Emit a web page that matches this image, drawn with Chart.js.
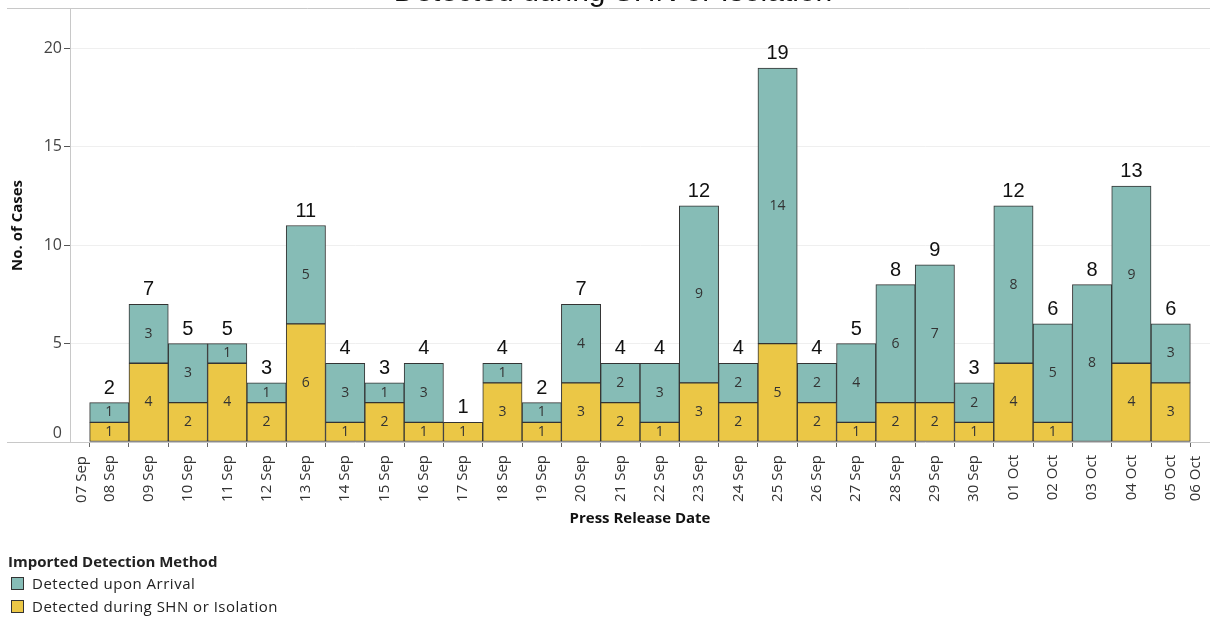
<!DOCTYPE html>
<html>
<head>
<meta charset="utf-8">
<script src="https://cdn.jsdelivr.net/npm/chart.js@4.4.1/dist/chart.umd.min.js"></script>
<style>
  html, body { margin: 0; padding: 0; background: #fff; }
  #wrap { position: relative; width: 1210px; height: 617px; overflow: hidden; }
  #legend { position: absolute; left: 8px; top: 551px; font-family: "Open Sans", sans-serif; font-size: 15px; color: #222; }
  #legend .ttl { font-weight: bold; height: 21px; line-height: 21px; }
  #legend .item { height: 23px; line-height: 23px; display: flex; align-items: center; letter-spacing: 0.5px; }
  #legend .sw { width: 11px; height: 11px; border: 1px solid #333; margin: 0 8px 0 3px; }
</style>
</head>
<body>
<div id="wrap">
  <canvas id="myChart" width="1210" height="617"></canvas>
  <div id="legend">
    <div class="ttl">Imported Detection Method</div>
    <div class="item"><span class="sw" style="background:#86BCB6"></span>Detected upon Arrival</div>
    <div class="item"><span class="sw" style="background:#EBC746"></span>Detected during SHN or Isolation</div>
  </div>
</div>
<script>
var tickLabels = ['07 Sep','08 Sep','09 Sep','10 Sep','11 Sep','12 Sep','13 Sep','14 Sep','15 Sep','16 Sep',
  '17 Sep','18 Sep','19 Sep','20 Sep','21 Sep','22 Sep','23 Sep','24 Sep','25 Sep','26 Sep','27 Sep',
  '28 Sep','29 Sep','30 Sep','01 Oct','02 Oct','03 Oct','04 Oct','05 Oct','06 Oct'];
// bars start at 08 Sep (index 1 of tickLabels)
var shn     = [1,4,2,4,2,6,1,2,1,1,3,1,3,2,1,3,2,5,2,1,2,2,1,4,1,0,4,3];
var arrival = [1,3,3,1,1,5,3,1,3,0,1,1,4,2,3,9,2,14,2,4,6,7,2,8,5,8,9,3];
var yTicks = [0,5,10,15,20];

var firstDay = 7;
function toPoints(arr) {
  return arr.map(function (v, i) { return { x: firstDay + 1 + i, y: v === 0 ? null : v }; });
}

function edgeLabel(c, text, x, y) {
  c.save();
  c.translate(x, y);
  c.rotate(-Math.PI / 2);
  c.textAlign = 'right';
  c.textBaseline = 'middle';
  c.fillText(text, 0, 0);
  c.restore();
}

var labelPlugin = {
  id: 'labels',
  afterDatasetsDraw: function (chart) {
    var c = chart.ctx;
    c.save();
    c.textAlign = 'center';
    c.textBaseline = 'middle';
    c.font = '14px "Open Sans"';
    c.fillStyle = '#333';
    chart.data.datasets.forEach(function (ds, di) {
      chart.getDatasetMeta(di).data.forEach(function (el, i) {
        var v = ds.data[i].y;
        if (!v) return;
        c.fillText(String(v), el.x, (el.y + el.base) / 2);
      });
    });
    // totals
    c.font = '20px "Liberation Sans"';
    c.fillStyle = '#111';
    c.textBaseline = 'alphabetic';
    var top = chart.getDatasetMeta(1).data;
    shn.forEach(function (v, i) {
      var t = v + arrival[i];
      var y = chart.scales.y.getPixelForValue(t);
      c.fillText(String(t), top[i].x, y - 9);
    });
    c.restore();
  },
  afterDraw: function (chart) {
    var c = chart.ctx;
    var a = chart.chartArea;
    c.save();
    c.strokeStyle = '#c8c8c8';
    c.lineWidth = 1;
    c.beginPath();
    c.moveTo(7, 8.5); c.lineTo(1210, 8.5);
    c.moveTo(7, a.bottom + 0.5); c.lineTo(a.left, a.bottom + 0.5);
    c.stroke();
    // clipped title at top
    c.font = '30px "Liberation Sans"';
    c.fillStyle = '#111';
    c.textAlign = 'center';
    c.textBaseline = 'alphabetic';
    c.fillText('Detected during SHN or Isolation', 613, 1);
    // first / last date labels pulled inside, bottom y label raised (as in reference)
    c.font = '15px "Open Sans"';
    c.fillStyle = '#333';
    edgeLabel(c, tickLabels[0], a.left + 12, a.bottom + 14);
    edgeLabel(c, tickLabels[tickLabels.length - 1], a.right - 14, a.bottom + 14);
    c.font = '16px "Open Sans"';
    c.fillStyle = '#444';
    c.textAlign = 'right';
    c.textBaseline = 'middle';
    c.fillText(String(yTicks[0]), 62, a.bottom - 9);
    c.restore();
  }
};

var ctx = document.getElementById('myChart');
var myChart = new Chart(ctx, {
  type: 'bar',
  data: {
    datasets: [{
      label: 'Detected during SHN or Isolation',
      data: toPoints(shn),
      backgroundColor: '#EBC746',
      borderColor: '#333',
      borderWidth: 1,
      borderSkipped: false,
      barPercentage: 1,
      categoryPercentage: 1
    }, {
      label: 'Detected upon Arrival',
      data: toPoints(arrival),
      backgroundColor: '#86BCB6',
      borderColor: '#333',
      borderWidth: 1,
      borderSkipped: false,
      barPercentage: 1,
      categoryPercentage: 1
    }]
  },
  options: {
    responsive: false,
    animation: false,
    layout: { padding: { top: 9, left: 0, right: 0, bottom: 0 } },
    plugins: { legend: { display: false }, tooltip: { enabled: false } },
    scales: {
      x: {
        type: 'linear',
        offset: false,
        stacked: true,
        min: firstDay,
        max: firstDay + tickLabels.length - 1,
        afterBuildTicks: function (axis) {
          axis.ticks = tickLabels.map(function (l, i) { return { value: firstDay + i }; });
        },
        afterFit: function (s) { s.paddingLeft = 0; s.paddingRight = 0; s.height = 175; },
        ticks: {
          autoSkip: false,
          minRotation: 90,
          maxRotation: 90,
          padding: 8,
          color: '#333',
          font: { family: 'Open Sans', size: 15 },
          callback: function (v) {
            var i = Math.round(v - firstDay);
            return (i === 0 || i === tickLabels.length - 1) ? '' : tickLabels[i];
          }
        },
        grid: { drawOnChartArea: false, drawTicks: true, tickLength: 5, tickColor: '#666' },
        border: { color: '#c8c8c8' },
        title: {
          display: true,
          text: 'Press Release Date',
          color: '#111',
          font: { family: 'Open Sans', size: 15, weight: 'bold' },
          padding: { top: 4, bottom: 89 }
        }
      },
      y: {
        stacked: true,
        min: 0,
        max: 22,
        afterBuildTicks: function (axis) {
          axis.ticks = yTicks.map(function (v) { return { value: v }; });
        },
        afterFit: function (s) { s.width = 70; s.paddingTop = 0; s.paddingBottom = 0; },
        ticks: {
          padding: 2,
          color: '#444',
          font: { family: 'Open Sans', size: 16 },
          callback: function (v) { return v === 0 ? '' : v; }
        },
        grid: {
          color: function (c) { return c.tick && c.tick.value === 0 ? 'rgba(0,0,0,0)' : '#efefef'; },
          tickColor: function (c) { return c.tick && c.tick.value === 0 ? 'rgba(0,0,0,0)' : '#555'; },
          tickLength: 6
        },
        border: { color: '#c8c8c8' },
        title: {
          display: true,
          text: 'No. of Cases',
          color: '#111',
          font: { family: 'Open Sans', size: 15, weight: 'bold' },
          padding: { top: 9, bottom: 0 }
        }
      }
    }
  },
  plugins: [labelPlugin]
});
</script>
</body>
</html>
